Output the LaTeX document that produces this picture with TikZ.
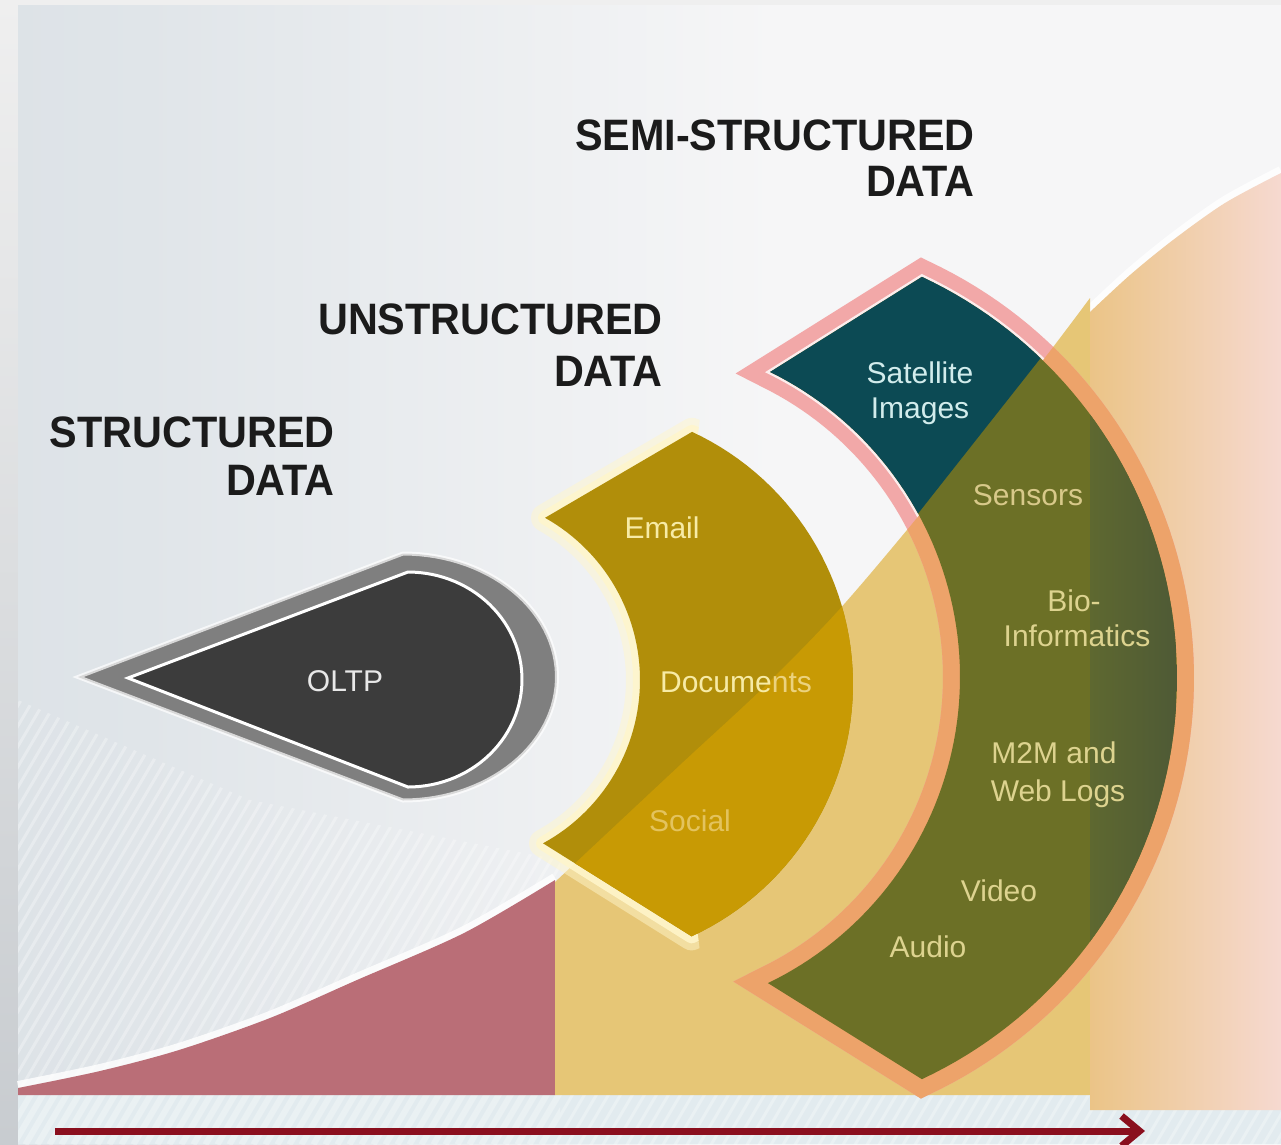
\documentclass[tikz,border=0pt]{standalone}
\usepackage{fontspec}
\setmainfont{Liberation Sans}
\newfontfamily\headfont[FakeStretch=0.94]{Liberation Sans}
\usetikzlibrary{arrows.meta}
\definecolor{framec}{HTML}{EFEFEF}
\definecolor{frameb}{HTML}{C8CCD0}
\definecolor{bgL}{HTML}{CFD7DE}
\definecolor{bgM}{HTML}{E0E5E9}
\definecolor{bgW}{HTML}{F6F6F7}
\definecolor{bandc}{HTML}{E2EBEF}
\definecolor{redc}{HTML}{BA6E77}
\definecolor{yelc}{HTML}{E6C676}
\definecolor{peachL}{HTML}{EBC487}
\definecolor{peachR}{HTML}{F6D9D0}
\definecolor{graybd}{HTML}{7F7F7F}
\definecolor{darkc}{HTML}{3C3C3C}
\definecolor{glowc}{HTML}{FFF6CC}
\definecolor{golddk}{HTML}{B18E0A}
\definecolor{goldlt}{HTML}{C89A04}
\definecolor{pinkc}{HTML}{F2A8A8}
\definecolor{salmonc}{HTML}{EDA36A}
\definecolor{greenc}{HTML}{6C7026}
\definecolor{greenR1}{HTML}{5E6830}
\definecolor{greenR2}{HTML}{4A5637}
\definecolor{tealc}{HTML}{0C4A54}
\definecolor{headc}{HTML}{1B1B1B}
\definecolor{goldtxt}{HTML}{F7EBA6}
\definecolor{ntsc}{HTML}{EBD27E}
\definecolor{socialc}{HTML}{E3C35E}
\definecolor{oltpc}{HTML}{E8E8E8}
\definecolor{tealtxt}{HTML}{D2ECEC}
\definecolor{sensc}{HTML}{D8C98A}
\definecolor{greentxt}{HTML}{DDD38F}
\definecolor{arrowc}{HTML}{8A0F1E}
\pgfdeclarehorizontalshading{bgshade}{100bp}{color(0bp)=(bgL); color(30bp)=(bgM); color(55bp)=(bgW); color(100bp)=(bgW)}
\begin{document}
\begin{tikzpicture}[x=1pt,y=-1pt,
  lbl/.style={font=\fontsize{30}{36}\selectfont, inner sep=0pt, anchor=base},
  head/.style={font=\headfont\bfseries\fontsize{44}{50}\selectfont, text=headc, inner sep=0pt, anchor=base east},
  stripe/.style={white, line width=3, opacity=0.3},
  docpath/.style={insert path={plot[domain=-65.1:65.2,samples=60] ({575+278*cos(\x)},{684+278*sin(\x)}) -- plot[domain=61.4:-60.7,samples=60] ({454+186*cos(\x)},{680+186*sin(\x)}) -- cycle}},
  semipath/.style={insert path={plot[domain=-64.9:64.9,samples=80] ({734+443*cos(\x)},{678+443*sin(\x)}) -- plot[domain=64.2:-63.8,samples=80] ({620+340*cos(\x)},{677+340*sin(\x)}) -- cycle}},
  oltpouter/.style={insert path={(78,677) -- plot[domain=-90:90,samples=60] ({403+154*cos(\x)},{677+123.5*sin(\x)}) -- cycle}},
  oltpinner/.style={insert path={(128,678) -- plot[domain=-90:90,samples=60] ({408+114*cos(\x)},{679.5+107.5*sin(\x)}) -- cycle}},
  undercurve/.style={insert path={(18,1144) -- (18,1088) -- plot[smooth] coordinates {(18,1088) (100,1071) (179,1050) (270,1018) (357,980) (464,933) (555,880)} -- plot[smooth] coordinates {(555,882) (680,765) (764,687) (837,612) (907,530) (980,440) (1047,355) (1090,298)} -- plot[smooth] coordinates {(1090,312) (1130,275) (1173,240) (1225,203) (1281,173)} -- (1281,1144) -- cycle}}
]
\useasboundingbox (0,0) rectangle (1281,1144);
\clip (0,0) rectangle (1281,1144);
% frame and slide background
\fill[framec] (0,0) rectangle (1281,1144);
\shade[top color=framec, bottom color=frameb] (0,0) rectangle (18,1144);
\shade[shading=bgshade] (18,5) rectangle (1281,1144);
\fill[bandc] (18,1095) rectangle (1281,1144);
% stripes
\begin{scope}
  \clip (18,700) -- (250,800) -- (560,860) -- (560,1144) -- (18,1144) -- cycle;
  \foreach \i in {0,...,95}{\draw[stripe] ({-600+\i*12},1144) -- ++(500,-850);}
\end{scope}
\begin{scope}
  \clip (18,1095) rectangle (1281,1144);
  \foreach \i in {0,...,110}{\draw[stripe] ({\i*12},1150) -- ++(40,-68);}
\end{scope}
% white highlight along the curve
\draw[white, line width=10, opacity=0.8] plot[smooth] coordinates {(18,1086) (100,1069) (179,1048) (270,1016) (357,978) (464,931) (555,878)};
\draw[white, line width=10, opacity=0.8] plot[smooth] coordinates {(1090,310) (1130,273) (1173,238) (1225,201) (1281,171)};
% coloured areas
\fill[redc] (18,1095) -- (18,1088) -- plot[smooth] coordinates {(18,1088) (100,1071) (179,1050) (270,1018) (357,980) (464,933) (555,880)} -- (555,1095) -- cycle;
\fill[yelc] (555,1095) -- plot[smooth] coordinates {(555,882) (680,765) (764,687) (837,612) (907,530) (980,440) (1047,355) (1090,298)} -- (1090,1095) -- cycle;
\shade[left color=peachL, right color=peachR] (1090,1110) -- (1090,312) -- plot[smooth] coordinates {(1090,312) (1130,275) (1173,240) (1225,203) (1281,173)} -- (1281,1110) -- cycle;
% OLTP shape
\draw[white, line width=4, draw opacity=0.7, fill=graybd, oltpouter];
\draw[white, line width=3, fill=darkc, oltpinner];
% unstructured shape
\begin{scope}
  \clip (480,380) -- (705,380) -- (665,684) -- (705,990) -- (480,990) -- cycle;
  \draw[glowc, line width=28, opacity=0.5, line join=round, docpath];
  \draw[glowc, line width=14, opacity=0.85, line join=round, docpath];
\end{scope}
\fill[golddk, docpath];
\begin{scope}
  \clip[undercurve];
  \fill[goldlt, docpath];
\end{scope}
% semi-structured shape
\draw[pinkc, line width=34, semipath];
\draw[white, line width=5, opacity=0.8, semipath];
\begin{scope}
  \clip[undercurve];
  \draw[salmonc, line width=34, semipath];
\end{scope}
\fill[greenc, semipath];
\begin{scope}
  \clip[semipath];
  \shade[left color=greenR1, right color=greenR2] (1090,200) rectangle (1200,1120);
  \fill[tealc] (1256,85) -- (696,795) -- (0,795) -- (0,0) -- (1256,0) -- cycle;
\end{scope}
% labels
\node[lbl, text=oltpc] (oltp) at (345,691) {OLTP};
\node[lbl, text=goldtxt] (email) at (662,538) {Email};
\node[lbl, text=goldtxt] (docs) at (736,692) {Docume\textcolor{ntsc}{nts}};
\node[lbl, text=socialc] (social) at (690,831) {Social};
\node[lbl, text=tealtxt] (sat1) at (920,383) {Satellite};
\node[lbl, text=tealtxt] (sat2) at (920,418) {Images};
\node[lbl, text=sensc] (sens) at (1028,505) {Sensors};
\node[lbl, text=greentxt] (bio1) at (1074,611) {Bio-};
\node[lbl, text=greentxt] (bio2) at (1077,646) {Informatics};
\node[lbl, text=greentxt] (m2m1) at (1054,763) {M2M and};
\node[lbl, text=greentxt] (m2m2) at (1058,801) {Web Logs};
\node[lbl, text=greentxt] (video) at (999,901) {Video};
\node[lbl, text=greentxt] (audio) at (928,957) {Audio};
% headings
\node[head] (h1a) at (975,150) {SEMI-STRUCTURED};
\node[head] (h1b) at (975,196) {DATA};
\node[head] (h2a) at (663,334) {UNSTRUCTURED};
\node[head] (h2b) at (663,386) {DATA};
\node[head] (h3a) at (335,447) {STRUCTURED};
\node[head] (h3b) at (335,495) {DATA};
% arrow
\coordinate (arrowstart) at (55,1131);
\coordinate (arrowend) at (1145,1131);
\draw[arrowc, line width=7, -{Straight Barb[length=18pt, width=30pt]}] (arrowstart) -- (arrowend);
\end{tikzpicture}
\end{document}
